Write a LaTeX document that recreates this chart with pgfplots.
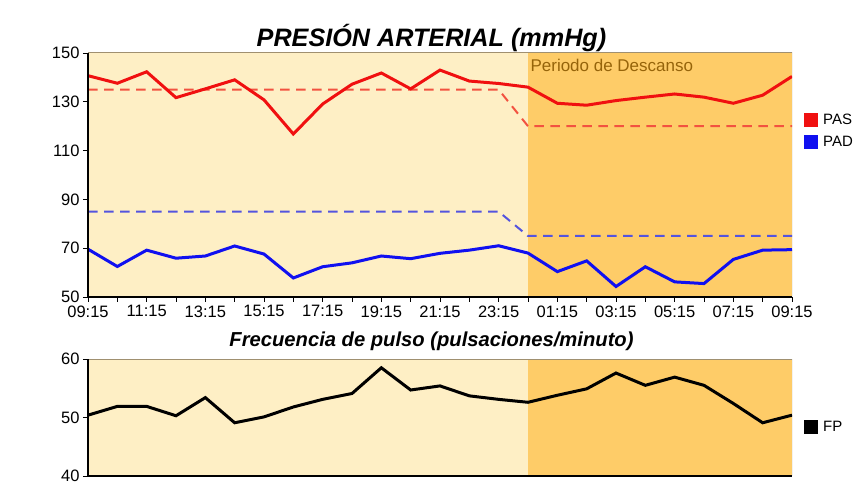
\documentclass[border=0pt]{standalone}
\usepackage{fontspec}
\setmainfont{Liberation Sans}
\usepackage{pgfplots}
\pgfplotsset{compat=1.18}
\definecolor{lightbg}{RGB}{254,239,197}
\definecolor{darkbg}{RGB}{254,204,104}
\definecolor{framec}{RGB}{160,144,112}
\definecolor{pasred}{RGB}{240,16,16}
\definecolor{padblue}{RGB}{16,16,240}
\definecolor{pasdash}{RGB}{242,82,64}
\definecolor{paddash}{RGB}{84,84,222}
\definecolor{restc}{RGB}{150,100,10}
\begin{document}
\begin{tikzpicture}
\path[use as bounding box] (0pt,0pt) rectangle (865pt,490pt);
\pgfplotsset{common/.style={
  scale only axis, width=704pt, xmin=0, xmax=24,
  axis background/.style={fill=lightbg},
  axis on top,
  axis x line*=bottom, axis y line*=left,
  axis line style={black, line width=1.2pt},
  tick align=outside, major tick length=5pt, minor tick length=5pt,
  tick style={black, line width=0.8pt},
  ticklabel style={font=\fontsize{16.5}{16.5}\selectfont},
  /pgf/number format/assume math mode=true,
  legend style={draw=none, fill=none, inner sep=0pt, font=\fontsize{15}{15}\selectfont, row sep=6pt},
  legend cell align=left,
  legend image code/.code={\fill (0pt,-5.5pt) rectangle (11pt,5.5pt); \path (14pt,0pt);},
}}
\node[font=\fontsize{25.2}{25}\selectfont\bfseries\itshape] at (431.5pt,452pt) {PRESIÓN ARTERIAL (mmHg)};
\node[font=\fontsize{20.2}{20}\selectfont\bfseries\itshape] at (431.5pt,149pt) {Frecuencia de pulso (pulsaciones/minuto)};
\begin{axis}[common, at={(88pt,193pt)}, anchor=south west, height=244pt,
  ymin=50, ymax=150, ytick={50,70,...,150},
  xtick={0,2,...,24}, minor xtick={1,3,...,23},
  xticklabels={09:15,11:15,13:15,15:15,17:15,19:15,21:15,23:15,01:15,03:15,05:15,07:15,09:15},
  legend style={at={(1.017,0.68)}, anchor=west}]
\fill[darkbg] (axis cs:15,50) rectangle (axis cs:24,150);
\draw[framec, line width=1pt] (rel axis cs:0,1) -- (rel axis cs:1,1) -- (rel axis cs:1,0);
\node[anchor=west, text=restc, font=\fontsize{17}{17}\selectfont, inner sep=0pt] at (axis cs:15.08,144.8) {Periodo de Descanso};
\addplot[pasdash, line width=2pt, dash pattern=on 9.5pt off 6.5pt, forget plot] coordinates {
(0,135)(1,135)(2,135)(3,135)(4,135)(5,135)(6,135)(7,135)(8,135)(9,135)(10,135)(11,135)(12,135)(13,135)(14,135)
(15,120)(16,120)(17,120)(18,120)(19,120)(20,120)(21,120)(22,120)(23,120)(24,120)};
\addplot[paddash, line width=2pt, dash pattern=on 9.5pt off 6.5pt, forget plot] coordinates {
(0,85)(1,85)(2,85)(3,85)(4,85)(5,85)(6,85)(7,85)(8,85)(9,85)(10,85)(11,85)(12,85)(13,85)(14,85)
(15,75)(16,75)(17,75)(18,75)(19,75)(20,75)(21,75)(22,75)(23,75)(24,75)};
\addplot[pasred, line width=3pt] coordinates {
(0,140.7)(1,137.6)(2,142.3)(3,131.7)(4,135.3)(5,139.0)(6,130.8)(7,116.8)(8,129.1)(9,137.2)(10,141.8)(11,135.3)(12,143.0)
(13,138.5)(14,137.5)(15,136.0)(16,129.4)(17,128.6)(18,130.5)(19,131.9)(20,133.2)(21,131.9)(22,129.4)(23,132.7)(24,140.4)};
\addlegendentry{PAS}
\addplot[padblue, line width=3pt] coordinates {
(0,69.6)(1,62.5)(2,69.2)(3,65.9)(4,66.8)(5,70.9)(6,67.6)(7,57.8)(8,62.4)(9,64.0)(10,66.8)(11,65.7)(12,67.9)
(13,69.2)(14,71.0)(15,68.0)(16,60.4)(17,64.8)(18,54.3)(19,62.4)(20,56.2)(21,55.5)(22,65.4)(23,69.2)(24,69.4)};
\addlegendentry{PAD}
\end{axis}
\begin{axis}[common, at={(88pt,14pt)}, anchor=south west, height=117pt,
  ymin=40, ymax=60, ytick={40,50,60}, xtick=\empty,
  legend style={at={(1.017,0.42)}, anchor=west}]
\fill[darkbg] (axis cs:15,40) rectangle (axis cs:24,60);
\draw[framec, line width=1pt] (rel axis cs:0,1) -- (rel axis cs:1,1) -- (rel axis cs:1,0);
\addplot[black, line width=3pt] coordinates {
(0,50.4)(1,51.9)(2,51.9)(3,50.3)(4,53.4)(5,49.1)(6,50.1)(7,51.8)(8,53.1)(9,54.1)(10,58.5)(11,54.7)(12,55.4)
(13,53.7)(14,53.1)(15,52.6)(16,53.8)(17,54.9)(18,57.6)(19,55.5)(20,56.9)(21,55.5)(22,52.4)(23,49.1)(24,50.4)};
\addlegendentry{FP}
\end{axis}
\end{tikzpicture}
\end{document}
